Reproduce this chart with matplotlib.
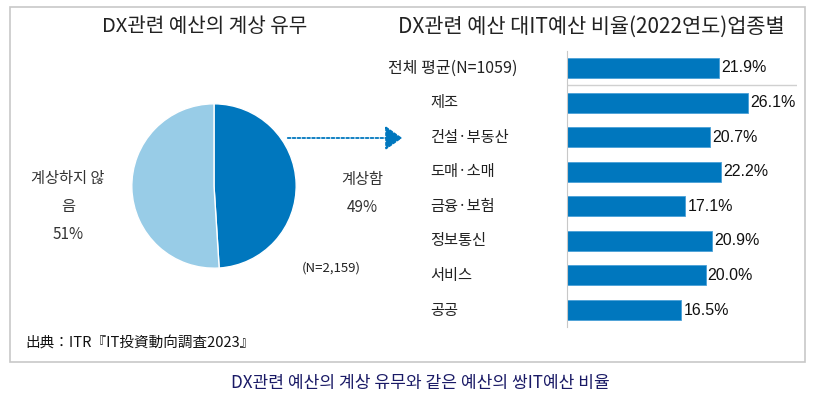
import matplotlib
matplotlib.use("Agg")
import matplotlib.pyplot as plt
from matplotlib.patches import Rectangle, FancyArrowPatch

plt.rcParams['font.family'] = ['Noto Sans CJK KR', 'DejaVu Sans']

# pie data
pie_labels = ["계상함", "계상하지 않\n음"]
pie_values = [49, 51]
pie_colors = ["#0077BE", "#98CCE7"]

# bar data
categories = ["전체 평균(N=1059)", "제조", "건설·부동산", "도매·소매",
              "금융·보험", "정보통신", "서비스", "공공"]
ratios = [21.9, 26.1, 20.7, 22.2, 17.1, 20.9, 20.0, 16.5]

W, H = 816, 398
fig = plt.figure(figsize=(W / 100, H / 100), dpi=100)


def box(x0, y0, x1, y1):
    # pixel box (top-left origin) -> figure fraction rect
    return [x0 / W, 1 - y1 / H, (x1 - x0) / W, (y1 - y0) / H]


def px(x, y):
    return x / W, 1 - y / H


# outer frame
fig.patches.append(Rectangle(px(10, 362), 795 / W, 355 / H, transform=fig.transFigure,
                             fill=False, edgecolor="#c8c8c8", linewidth=1.2))

# ---- pie ----
r = 83
axp = fig.add_axes(box(214 - r, 186 - r, 214 + r, 186 + r))
axp.pie(pie_values, colors=pie_colors, startangle=90, counterclock=False,
        wedgeprops=dict(edgecolor="white", linewidth=1))
axp.set_xlim(-1.01, 1.01)
axp.set_ylim(-1.01, 1.01)
axp.set_aspect("equal")

fig.text(*px(205, 27), "DX관련 예산의 계상 유무", fontsize=14.5, ha="center", va="center", color="#222222")
fig.text(*px(362, 180), pie_labels[0], fontsize=11, ha="center", va="center", color="#333333")
fig.text(*px(362, 207), f"{pie_values[0]}%", fontsize=11, ha="center", va="center", color="#333333")
fig.text(*px(68, 192), pie_labels[1], fontsize=11, ha="center", va="center", color="#333333",
         linespacing=1.85)
fig.text(*px(68, 235), f"{pie_values[1]}%", fontsize=11, ha="center", va="center", color="#333333")
fig.text(*px(331, 268), "(N=2,159)", fontsize=9.5, ha="center", va="center", color="#222222")

# dotted arrow from pie to bars
fig.add_artist(FancyArrowPatch(
    px(285, 138), px(405, 138), transform=fig.transFigure,
    arrowstyle="-|>,head_length=7,head_width=5", linestyle=(0, (1.5, 1.2)),
    color="#0077BE", linewidth=1.3, mutation_scale=1.5))

# ---- bars ----
axb = fig.add_axes(box(567, 50.7, 797, 327.3))
ypos = list(range(len(categories)))
axb.barh(ypos, ratios, height=0.58, color="#0077BE", edgecolor="#4aa0d8", linewidth=0.6)
axb.set_xlim(0, 33.2)
axb.set_ylim(len(categories) - 0.5, -0.5)
for s in ["top", "right", "bottom"]:
    axb.spines[s].set_visible(False)
axb.spines["left"].set_color("#c8c8c8")
axb.set_xticks([])
axb.set_yticks([])
axb.axhline(0.5, color="#d0d0d0", linewidth=1)
for y, v in zip(ypos, ratios):
    axb.text(v + 0.3, y, f"{v:.1f}%", fontsize=11.5, va="center", ha="left",
             family="Liberation Sans", color="#111111")
for y, c in zip(ypos, categories):
    if y == 0:
        # overall average sits centred under the right-hand title
        axb.text(-0.496, y, c, transform=axb.get_yaxis_transform(), fontsize=11.5,
                 va="center", ha="center", color="#222222")
    else:
        axb.text(-0.596, y, c, transform=axb.get_yaxis_transform(), fontsize=11,
                 va="center", ha="left", color="#222222")

fig.text(*px(398, 27), "DX관련 예산 대IT예산 비율(2022연도)업종별", fontsize=15,
         ha="left", va="center", color="#222222")

fig.text(*px(25, 344), "出典：ITR『IT投資動向調査2023』", fontsize=10.5, ha="left", va="center",
         color="#111111", family=["Noto Sans CJK JP", "DejaVu Sans"])
fig.text(*px(420, 383), "DX관련 예산의 계상 유무와 같은 예산의 쌍IT예산 비율", fontsize=12.3,
         ha="center", va="center", color="#1a1a66")

fig.savefig("out.png", dpi=100)
